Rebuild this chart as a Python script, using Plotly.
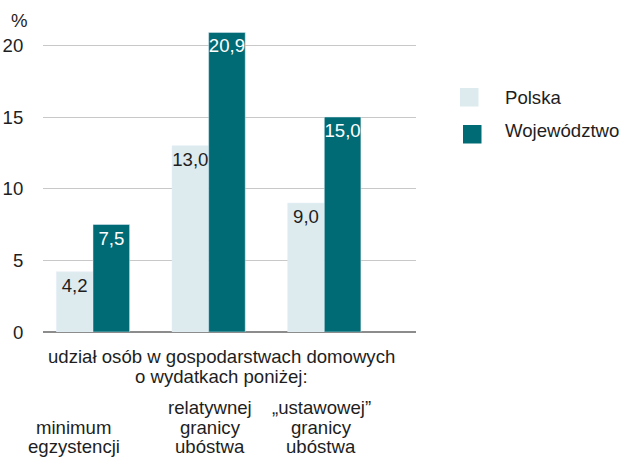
import plotly.graph_objects as go

categories = [["minimum", "egzystencji"], ["relatywnej", "granicy", "ubóstwa"], ["„ustawowej”", "granicy", "ubóstwa"]]
polska = [4.2, 13.0, 9.0]
wojewodztwo = [7.5, 20.9, 15.0]
series_names = ["Polska", "Województwo"]
y_ticks = [0, 5, 10, 15, 20]
x_title = ["udział osób w gospodarstwach domowych", "o wydatkach poniżej:"]

C_POL = "#ddebef"
C_WOJ = "#006b74"
FONT = "Liberation Sans, Arial, sans-serif"
TXT = "#1e1e1e"
FS = 18.6

xs = list(range(len(categories)))
fmt = lambda v: f"{v:.1f}".replace(".", ",")

fig = go.Figure()
fig.add_trace(go.Bar(x=xs, y=polska, name=series_names[0], marker_color=C_POL,
                     text=[fmt(v) for v in polska], textposition="inside",
                     insidetextanchor="end", textangle=0, constraintext="none",
                     textfont=dict(color=TXT, size=FS, family=FONT), showlegend=False))
fig.add_trace(go.Bar(x=xs, y=wojewodztwo, name=series_names[1], marker_color=C_WOJ,
                     text=[fmt(v) for v in wojewodztwo], textposition="inside",
                     insidetextanchor="end", textangle=0, constraintext="none",
                     textfont=dict(color="white", size=FS, family=FONT), showlegend=False))

W, H = 621, 457
L, R, T, B = 43, 205, 31, 125
pw, ph = W - L - R, H - T - B
px = lambda p: (p - L) / pw
py = lambda p: (T + ph - p) / ph

def txt(xp, yp, s, anchor="center"):
    return dict(x=px(xp), xref="paper", y=py(yp), yref="paper", yanchor="middle",
                xanchor=anchor, text=s, showarrow=False,
                font=dict(size=FS, color=TXT, family=FONT))

annotations = []
# category labels (bottom-aligned lines)
cat_x = [73.5, 210, 321]
line_step = 19.5
last_line_y = 446.5
for cx, lines in zip(cat_x, categories):
    n = len(lines)
    for k, s in enumerate(lines):
        annotations.append(txt(cx, last_line_y - (n - 1 - k) * line_step, s))
for k, s in enumerate(x_title):
    annotations.append(txt(221.5, 356.5 + k * 20, s))
annotations.append(txt(9, 20.5, "%", "left"))
# legend
shapes = []
leg = [(series_names[0], C_POL, 460, 88, 97.5), (series_names[1], C_WOJ, 463, 125, 130.5)]
for name, col, x0, y0, ty in leg:
    shapes.append(dict(type="rect", xref="paper", yref="paper", x0=px(x0), x1=px(x0 + 18.5),
                       y0=py(y0), y1=py(y0 + 18.5), fillcolor=col, line=dict(width=0)))
    annotations.append(txt(503, ty, name, "left"))

xr0 = -50 / 115.65
fig.update_layout(
    width=W, height=H, margin=dict(l=L, r=R, t=T, b=B, pad=0, autoexpand=False),
    paper_bgcolor="white", plot_bgcolor="white",
    barmode="group", bargap=0.367, bargroupgap=0,
    font=dict(family=FONT, size=FS, color=TXT),
    annotations=annotations, shapes=shapes,
    xaxis=dict(range=[xr0, xr0 + pw / 115.65], showticklabels=False, showgrid=False,
               zeroline=False, fixedrange=True, automargin=False),
    yaxis=dict(range=[0, 21], tickvals=y_ticks, showgrid=True, gridcolor="#c8c8c8",
               gridwidth=1, zeroline=True, zerolinecolor="#8c8c8c", zerolinewidth=2,
               ticks="outside", ticklen=15, tickcolor="rgba(0,0,0,0)", automargin=False,
               fixedrange=True, tickfont=dict(size=FS, color=TXT, family=FONT)),
)
fig.write_html("out.html", config={"displayModeBar": False, "staticPlot": True},
               post_script="document.body.style.margin='0';document.body.style.overflow='hidden';")
